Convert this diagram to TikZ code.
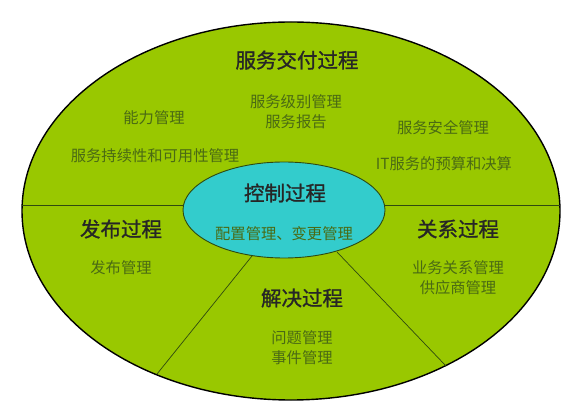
\documentclass[tikz,border=0pt]{standalone}
\usepackage{fontspec}
\newfontfamily\cjk{Noto Sans CJK SC}
\newfontfamily\cjkt[FakeBold=1.2]{Noto Sans CJK SC}
\usetikzlibrary{shapes.geometric}
\definecolor{outerg}{HTML}{99C800}
\definecolor{innerc}{HTML}{33CCCC}
\definecolor{subtxt}{HTML}{4A6A14}
\definecolor{divline}{HTML}{2F4A10}
\begin{document}
\begin{tikzpicture}[x=1pt,y=-1pt,
  title/.style={font=\cjkt\fontsize{20.5}{24}\selectfont, text=black!85, inner sep=0pt, align=center},
  sub/.style={font=\cjk\fontsize{15.3}{19}\selectfont, text=subtxt, inner sep=0pt, align=center},
  divider/.style={draw=divline, line width=0.7pt}]
\useasboundingbox[fill=white] (0,0) rectangle (580,411);
% outer ellipse
\node[ellipse, draw=black, line width=1.4pt, fill=outerg, minimum width=538pt, minimum height=378pt, inner sep=0pt] (outer) at (291,211) {};
% divider end points
\coordinate (L1) at (22.2,205);
\coordinate (L2) at (183.6,205);
\coordinate (R1) at (384.4,205);
\coordinate (R2) at (559.8,205);
\coordinate (BL1) at (252,256);
\coordinate (BL2) at (157,374);
\coordinate (BR1) at (337,252);
\coordinate (BR2) at (446,366);
\draw[divider] (L1) -- (L2);
\draw[divider] (R1) -- (R2);
\draw[divider] (BL1) -- (BL2);
\draw[divider] (BR1) -- (BR2);
% inner ellipse
\node[ellipse, draw=divline, line width=0.9pt, fill=innerc, minimum width=202pt, minimum height=96pt, inner sep=0pt] (inner) at (284,210) {};
% texts
\node[title] (t1) at (297,60) {服务交付过程};
\node[sub] (s1) at (296,102) {服务级别管理};
\node[sub] (s2) at (296,122) {服务报告};
\node[sub] (s3) at (154,118) {能力管理};
\node[sub] (s4) at (155,156) {服务持续性和可用性管理};
\node[sub] (s5) at (443,128) {服务安全管理};
\node[sub] (s6) at (444,164) {IT服务的预算和决算};
\node[title] (t2) at (285,193) {控制过程};
\node[sub] (s7) at (284,234) {配置管理、变更管理};
\node[title] (t3) at (121,229) {发布过程};
\node[sub] (s8) at (121,268) {发布管理};
\node[title] (t4) at (458,229) {关系过程};
\node[sub] (s9) at (458,268) {业务关系管理};
\node[sub] (s10) at (458,288) {供应商管理};
\node[title] (t5) at (302,298) {解决过程};
\node[sub] (s11) at (302,338) {问题管理};
\node[sub] (s12) at (302,358) {事件管理};
\end{tikzpicture}
\end{document}
